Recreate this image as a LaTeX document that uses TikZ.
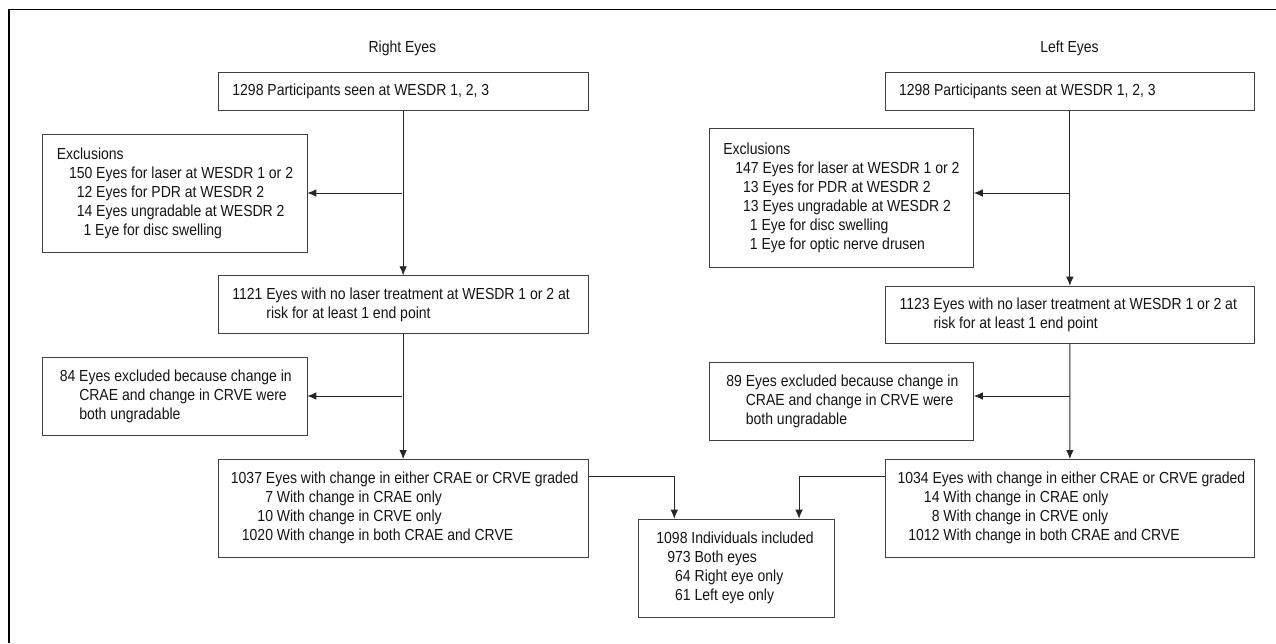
\documentclass[tikz,border=0pt]{standalone}
\usepackage{fontspec}
\setmainfont{Liberation Sans}[FakeStretch=0.875]
\usetikzlibrary{arrows.meta,calc}
\newcommand\tb[1]{\begin{tabular}{@{}l@{}}#1\end{tabular}}
\newcommand\bx[2]{\makebox[#1][l]{\tb{#2}}}
\begin{document}
\begin{tikzpicture}[x=1pt,y=-1pt,
  box/.style={draw=black!75, line width=0.8pt, anchor=north west, inner ysep=0pt,
    font=\fontsize{16}{19}\selectfont, text=black!92},
  lbl/.style={font=\fontsize{16}{19}\selectfont, text=black!92},
  arr/.style={draw=black!85, line width=0.8pt, -{Latex[length=9pt,width=7.5pt]}},
  frame/.style={draw=black, line width=1.4pt}]
\useasboundingbox (0,0) rectangle (1276,643);
\draw[frame] (9,643) -- (9,9.3) -- (1276,9.3);

% headers
\node[lbl] (rh) at (402.4,48) {Right Eyes};
\node[lbl] (lh) at (1069.5,48) {Left Eyes};

% right column
\node[box, minimum width=370.5pt, minimum height=38pt, inner xsep=14.5pt] (r1) at (217.5,72)
  {\bx{341.5pt}{1298 Participants seen at WESDR 1, 2, 3}};
\node[box, minimum width=264.1pt, minimum height=118pt, inner xsep=14pt] (rx) at (42.4,134)
  {\bx{236.1pt}{Exclusions\\
   \hspace*{12.2pt}150 Eyes for laser at WESDR 1 or 2\\
   \hspace*{12.2pt}\hphantom{1}12 Eyes for PDR at WESDR 2\\
   \hspace*{12.2pt}\hphantom{1}14 Eyes ungradable at WESDR 2\\
   \hspace*{12.2pt}\hphantom{11}1 Eye for disc swelling}};
\node[box, minimum width=370.5pt, minimum height=58pt, inner xsep=14.5pt] (r2) at (217.5,275.3)
  {\bx{341.5pt}{1121 Eyes with no laser treatment at WESDR 1 or 2 at\\
   \hphantom{1121 }risk for at least 1 end point}};
\node[box, minimum width=264.1pt, minimum height=78pt, inner xsep=17pt] (ry) at (42.4,357)
  {\bx{230.1pt}{84 Eyes excluded because change in\\
   \hphantom{84 }CRAE and change in CRVE were\\
   \hphantom{84 }both ungradable}};
\node[box, minimum width=370.5pt, minimum height=98pt, inner xsep=13pt] (r3) at (217.5,459)
  {\bx{344.5pt}{1037 Eyes with change in either CRAE or CRVE graded\\
   \hspace*{11pt}\hphantom{102}7 With change in CRAE only\\
   \hspace*{11pt}\hphantom{10}10 With change in CRVE only\\
   \hspace*{11pt}1020 With change in both CRAE and CRVE}};

% left column
\node[box, minimum width=369.7pt, minimum height=38pt, inner xsep=14pt] (l1) at (884.6,72)
  {\bx{341.7pt}{1298 Participants seen at WESDR 1, 2, 3}};
\node[box, minimum width=264pt, minimum height=139pt, inner xsep=14pt] (lx) at (709,128.3)
  {\bx{236pt}{Exclusions\\
   \hspace*{12pt}147 Eyes for laser at WESDR 1 or 2\\
   \hspace*{12pt}\hphantom{1}13 Eyes for PDR at WESDR 2\\
   \hspace*{12pt}\hphantom{1}13 Eyes ungradable at WESDR 2\\
   \hspace*{12pt}\hphantom{11}1 Eye for disc swelling\\
   \hspace*{12pt}\hphantom{11}1 Eye for optic nerve drusen}};
\node[box, minimum width=369.7pt, minimum height=57.6pt, inner xsep=14.5pt] (l2) at (884.6,285.7)
  {\bx{340.7pt}{1123 Eyes with no laser treatment at WESDR 1 or 2 at\\
   \hphantom{1123 }risk for at least 1 end point}};
\node[box, minimum width=264pt, minimum height=77.4pt, inner xsep=17pt] (ly) at (709,362.3)
  {\bx{230pt}{89 Eyes excluded because change in\\
   \hphantom{89 }CRAE and change in CRVE were\\
   \hphantom{89 }both ungradable}};
\node[box, minimum width=369.7pt, minimum height=98pt, inner xsep=12.6pt] (l3) at (884.6,459)
  {\bx{344.5pt}{1034 Eyes with change in either CRAE or CRVE graded\\
   \hspace*{10.8pt}\hphantom{10}14 With change in CRAE only\\
   \hspace*{10.8pt}\hphantom{101}8 With change in CRVE only\\
   \hspace*{10.8pt}1012 With change in both CRAE and CRVE}};

% centre box
\node[box, minimum width=196pt, minimum height=98pt, inner xsep=18pt] (c) at (638,518.7)
  {\bx{160pt}{1098 Individuals included\\
   \hspace*{11pt}973 Both eyes\\
   \hspace*{11pt}\hphantom{9}64 Right eye only\\
   \hspace*{11pt}\hphantom{9}61 Left eye only}};

% branch points
\coordinate (ra1) at (402.4,193);
\coordinate (ra2) at (402.4,396);
\coordinate (la1) at (1069.5,193);
\coordinate (la2) at (1069.5,396);
\coordinate (jr) at (674.3,476.7);
\coordinate (jl) at (799,476.7);

% connectors
\draw[arr] (r1.south) -- (r2.north);
\draw[arr] (ra1) -- (ra1 -| rx.east);
\draw[arr] (r2.south) -- (r3.north);
\draw[arr] (ra2) -- (ra2 -| ry.east);
\draw[arr] (l1.south) -- (l2.north);
\draw[arr] (la1) -- (la1 -| lx.east);
\draw[arr] (l2.south) -- (l3.north);
\draw[arr] (la2) -- (la2 -| ly.east);
\draw[arr] (r3.east |- jr) -- (jr) -- (jr |- c.north);
\draw[arr] (l3.west |- jl) -- (jl) -- (jl |- c.north);
\end{tikzpicture}
\end{document}
